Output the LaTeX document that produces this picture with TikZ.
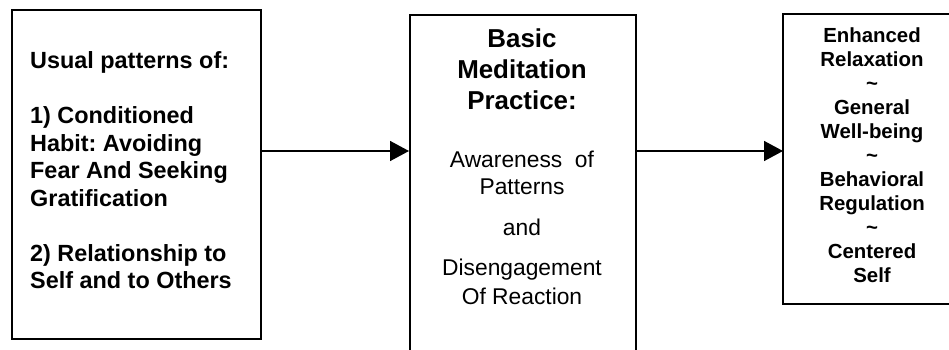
\documentclass[tikz,border=0pt]{standalone}
\usepackage{fontspec}
\setmainfont{Liberation Sans}
\usetikzlibrary{arrows.meta}

\begin{document}
\begin{tikzpicture}[x=1pt,y=-1pt,
    box/.style={draw, line width=1.8pt, inner sep=0pt, anchor=north west},
    flow/.style={line width=1.5pt, -{Triangle[length=19pt,width=20pt]}},
    line/.style={inner sep=0pt, anchor=base}]
        % picture frame
        \useasboundingbox (0,0) rectangle (949,350);
        \clip (0,0) rectangle (949,350);

        % the three boxes (the last two run past the frame)
        \node[box, minimum width=249pt, minimum height=329pt] (usual) at (11,9) {};
        \node[box, minimum width=226pt, minimum height=380pt] (basic) at (409,14) {};
        \node[box, draw=none, minimum width=210pt, minimum height=288pt] (result) at (783,14) {};
        \draw[line width=1.8pt] (result.north east) -- (result.north west)
          -- (result.south west) -- (result.south east);

        % arrows
        \coordinate (mid) at (0,151);
        \draw[flow] (usual.east |- mid) -- (basic.west |- mid);
        \draw[flow] (basic.east |- mid) -- (result.west |- mid);

        % left box text
        \foreach \y/\t [count=\i] in {69/Usual patterns of:, 124/1) Conditioned,
            151/Habit: Avoiding, 178/Fear And Seeking, 206/Gratification,
            261/2) Relationship to, 288/Self and to Others}
          \node[line, anchor=base west, font=\fontsize{23.4}{28}\selectfont\bfseries\frenchspacing] (u\i) at (30,\y) {\t};

        % middle box text
        \foreach \y/\t [count=\i] in {48/Basic, 79/Meditation, 110/Practice:}
          \node[line, font=\fontsize{25.9}{31}\selectfont\bfseries] (b\i) at (522,\y) {\t};
        \foreach \y/\t [count=\i] in {167/Awareness\ \ of, 194/Patterns, 235/and,
            275/Disengagement, 304/Of Reaction}
          \node[line, font=\fontsize{22.8}{27}\selectfont] (p\i) at (522,\y) {\t};

        % right box text
        \foreach \t [count=\i] in {Enhanced, Relaxation, \textasciitilde, General,
            Well-being, \textasciitilde, Behavioral, Regulation, \textasciitilde,
            Centered, Self}
          \node[line, font=\fontsize{20.4}{24}\selectfont\bfseries] (r\i) at (872,{43+23.9*(\i-1)}) {\t};
\end{tikzpicture}
\end{document}
